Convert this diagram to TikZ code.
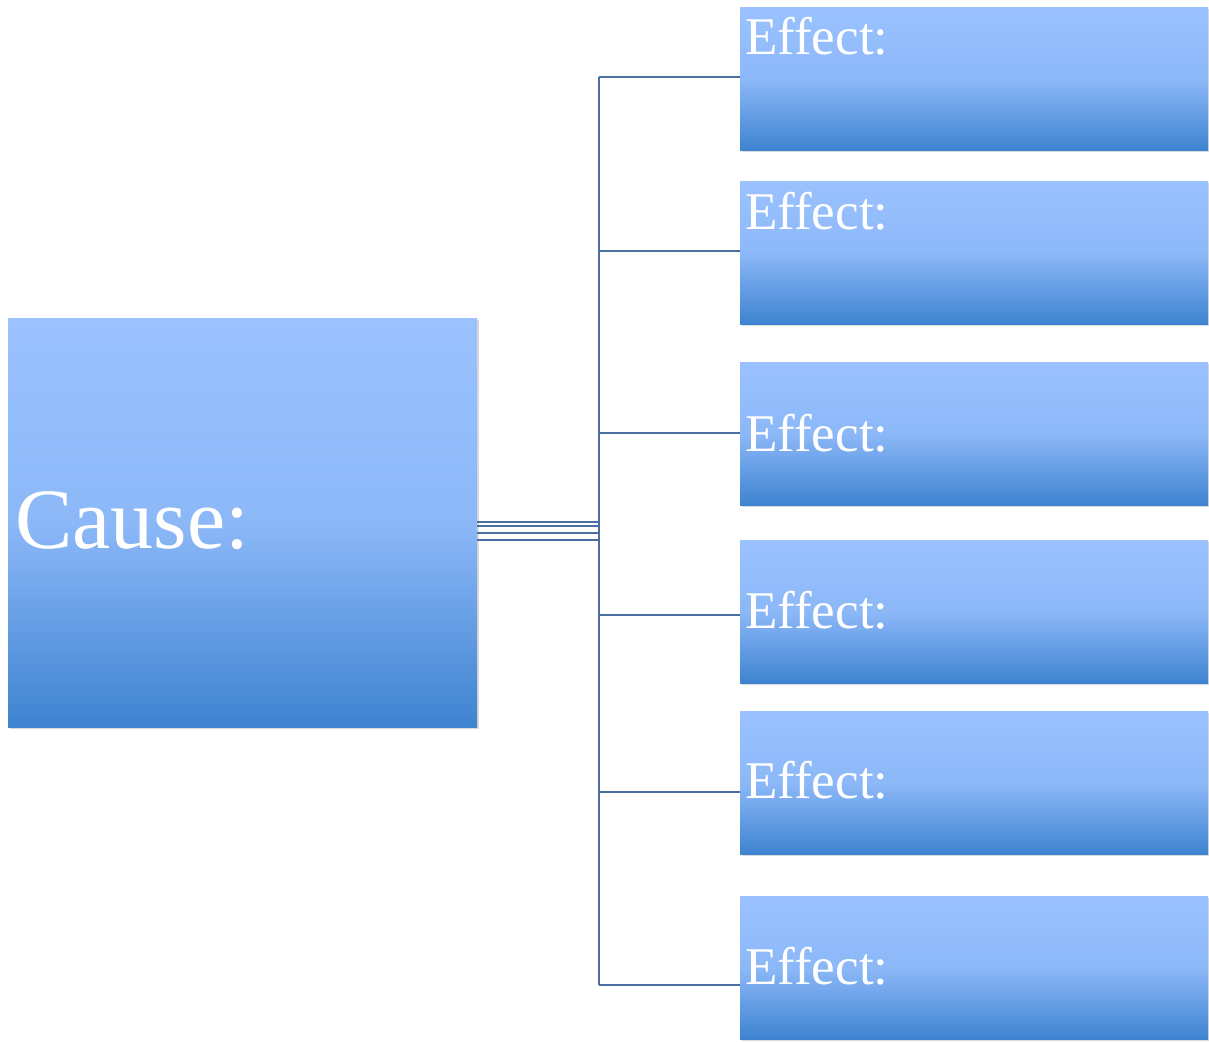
\documentclass[tikz,border=0pt]{standalone}
\usepackage{fontspec}
\setmainfont{Liberation Serif}
\usetikzlibrary{shadows}
\definecolor{topc}{RGB}{155,194,255}
\definecolor{midc}{RGB}{140,184,248}
\definecolor{botc}{RGB}{62,131,208}
\definecolor{linec}{RGB}{74,110,160}
\tikzset{
  box/.style={anchor=north west, inner sep=0pt, top color=topc, bottom color=botc, middle color=midc,
    drop shadow={shadow xshift=1.5pt, shadow yshift=-2pt, opacity=0.15, fill=black}},
  effbox/.style={box, minimum width=468pt, minimum height=143pt},
  efftext/.style={anchor=base west, inner sep=0pt, text=white, font=\fontsize{53}{53}\selectfont},
  conn/.style={draw=linec, line width=1.8pt},
}
\begin{document}
\begin{tikzpicture}[x=1pt,y=-1pt]
\useasboundingbox (0,0) rectangle (1209,1041);
\node[box, minimum width=469pt, minimum height=409pt] (cause) at (8,318) {};
\node[anchor=base west, inner sep=0pt, text=white, font=\fontsize{86}{86}\selectfont] (causet) at (15,548) {Cause:};
\node[effbox] (e1) at (740,7) {};
\node[effbox] (e2) at (740,181) {};
\node[effbox] (e3) at (740,362) {};
\node[effbox] (e4) at (740,540) {};
\node[effbox] (e5) at (740,711) {};
\node[effbox] (e6) at (740,896) {};
\node[efftext] (t1) at (745,55) {Effect:};
\node[efftext] (t2) at (745,229) {Effect:};
\node[efftext] (t3) at (745,451) {Effect:};
\node[efftext] (t4) at (745,628) {Effect:};
\node[efftext] (t5) at (745,798) {Effect:};
\node[efftext] (t6) at (745,984) {Effect:};
\coordinate (b1) at (599,77);
\coordinate (b2) at (599,251);
\coordinate (b3) at (599,433);
\coordinate (b4) at (599,615);
\coordinate (b5) at (599,792);
\coordinate (b6) at (599,985);
\draw[conn] (b1) -- (b6);
\foreach \i in {1,...,6} {\draw[conn] (b\i) -- (b\i -| e\i.west);}
\foreach \y in {522,526,533,540} {\draw[conn] (cause.east |- 0,\y) -- (599,\y);}
\end{tikzpicture}
\end{document}
